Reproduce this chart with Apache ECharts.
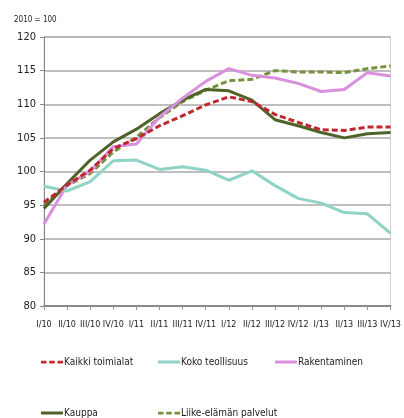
<!DOCTYPE html>
<html>
<head>
<meta charset="utf-8">
<script src="https://cdn.jsdelivr.net/npm/echarts@6/dist/echarts.min.js"></script>
<style>html,body{margin:0;padding:0;background:#fff;}#c{width:404px;height:418px;}</style>
</head>
<body>
<div id="c"></div>
<script>
var categories = ['I/10','II/10','III/10','IV/10','I/11','II/11','III/11','IV/11','I/12','II/12','III/12','IV/12','I/13','II/13','III/13','IV/13'];
var kaikkiToimialat = [95.4, 98.0, 100.2, 103.4, 104.9, 106.8, 108.3, 109.9, 111.1, 110.4, 108.5, 107.3, 106.2, 106.1, 106.6, 106.6];
var kokoTeollisuus = [97.8, 97.1, 98.5, 101.6, 101.7, 100.3, 100.7, 100.2, 98.7, 100.1, 97.9, 96.0, 95.3, 93.9, 93.7, 90.8];
var rakentaminen = [92.2, 98.0, 100.0, 103.7, 104.1, 108.1, 110.9, 113.4, 115.3, 114.3, 113.9, 113.1, 111.9, 112.2, 114.7, 114.2];
var kauppa = [94.5, 98.2, 101.7, 104.4, 106.3, 108.6, 110.6, 112.2, 112.0, 110.6, 107.7, 106.8, 105.8, 105.0, 105.6, 105.8];
var liikeElama = [95.0, 97.9, 99.7, 102.9, 105.1, 108.0, 110.4, 112.1, 113.5, 113.7, 115.0, 114.8, 114.8, 114.7, 115.3, 115.7];
var yTicks = [80, 85, 90, 95, 100, 105, 110, 115, 120];

var FONT = "'DejaVu Sans Condensed','Liberation Sans Narrow',sans-serif";
var names = ['Kaikki toimialat','Koko teollisuus','Rakentaminen','Kauppa','Liike-elämän palvelut'];
var colors = ['#C0272D','#8FD3C5','#DB8FDF','#4F6228','#77933C'];
var types = ['dashed','solid','solid','solid','dashed'];
var datas = [kaikkiToimialat, kokoTeollisuus, rakentaminen, kauppa, liikeElama];
var legendPos = [[41,357],[158,357],[275,357],[41,408],[158,408]];
var DASH_ICON = 'path://M0,0h6v3h-6z M9,0h6v3h-6z M18,0h6v3h-6z';

var series = names.map(function(n,i){
  return {
    name: n, type: 'line', data: datas[i], symbol: 'none',
    lineStyle: {color: colors[i], width: 3, type: types[i] === 'dashed' ? [6,3] : 'solid'},
    itemStyle: {color: colors[i]},
    z: 10 - i
  };
});
var legends = names.map(function(n,i){
  return {
    data: [{name: n, icon: types[i] === 'dashed' ? DASH_ICON : 'rect'}],
    left: legendPos[i][0], top: legendPos[i][1],
    itemWidth: 22, itemHeight: 3, itemGap: 0, padding: 0,
    textStyle: {fontFamily: FONT, fontSize: 10, color: '#222', padding: [0,0,0,-4]},
    selectedMode: false
  };
});

var chart = echarts.init(document.getElementById('c'), null, {renderer: 'canvas'});
chart.setOption({
  animation: false,
  title: {text: '2010 = 100', left: 9, top: 11, textStyle: {fontFamily: FONT, fontSize: 8, fontWeight: 'normal', color: '#222'}},
  legend: legends,
  grid: {left: 44, right: 7, top: 37, bottom: 112, show: true, borderColor: '#d0d0d0', borderWidth: 1},
  xAxis: {
    type: 'category', data: categories, boundaryGap: false,
    axisLine: {lineStyle: {color: '#888', width: 2}},
    axisTick: {show: true, length: 4, lineStyle: {color: '#999'}},
    axisLabel: {fontFamily: FONT, fontSize: 9, color: '#222', margin: 14, interval: 0},
    splitLine: {show: false}
  },
  yAxis: {
    type: 'value', min: 80, max: 120, interval: 5,
    axisLine: {show: true, lineStyle: {color: '#888'}},
    axisTick: {show: true, length: 4, lineStyle: {color: '#888'}},
    axisLabel: {fontFamily: FONT, fontSize: 11, color: '#222', margin: 8,
      formatter: function(v){ return yTicks.indexOf(v) >= 0 ? String(v) : ''; }},
    splitLine: {lineStyle: {color: '#aaa', width: 1.5}}
  },
  series: series
});
</script>
</body>
</html>
